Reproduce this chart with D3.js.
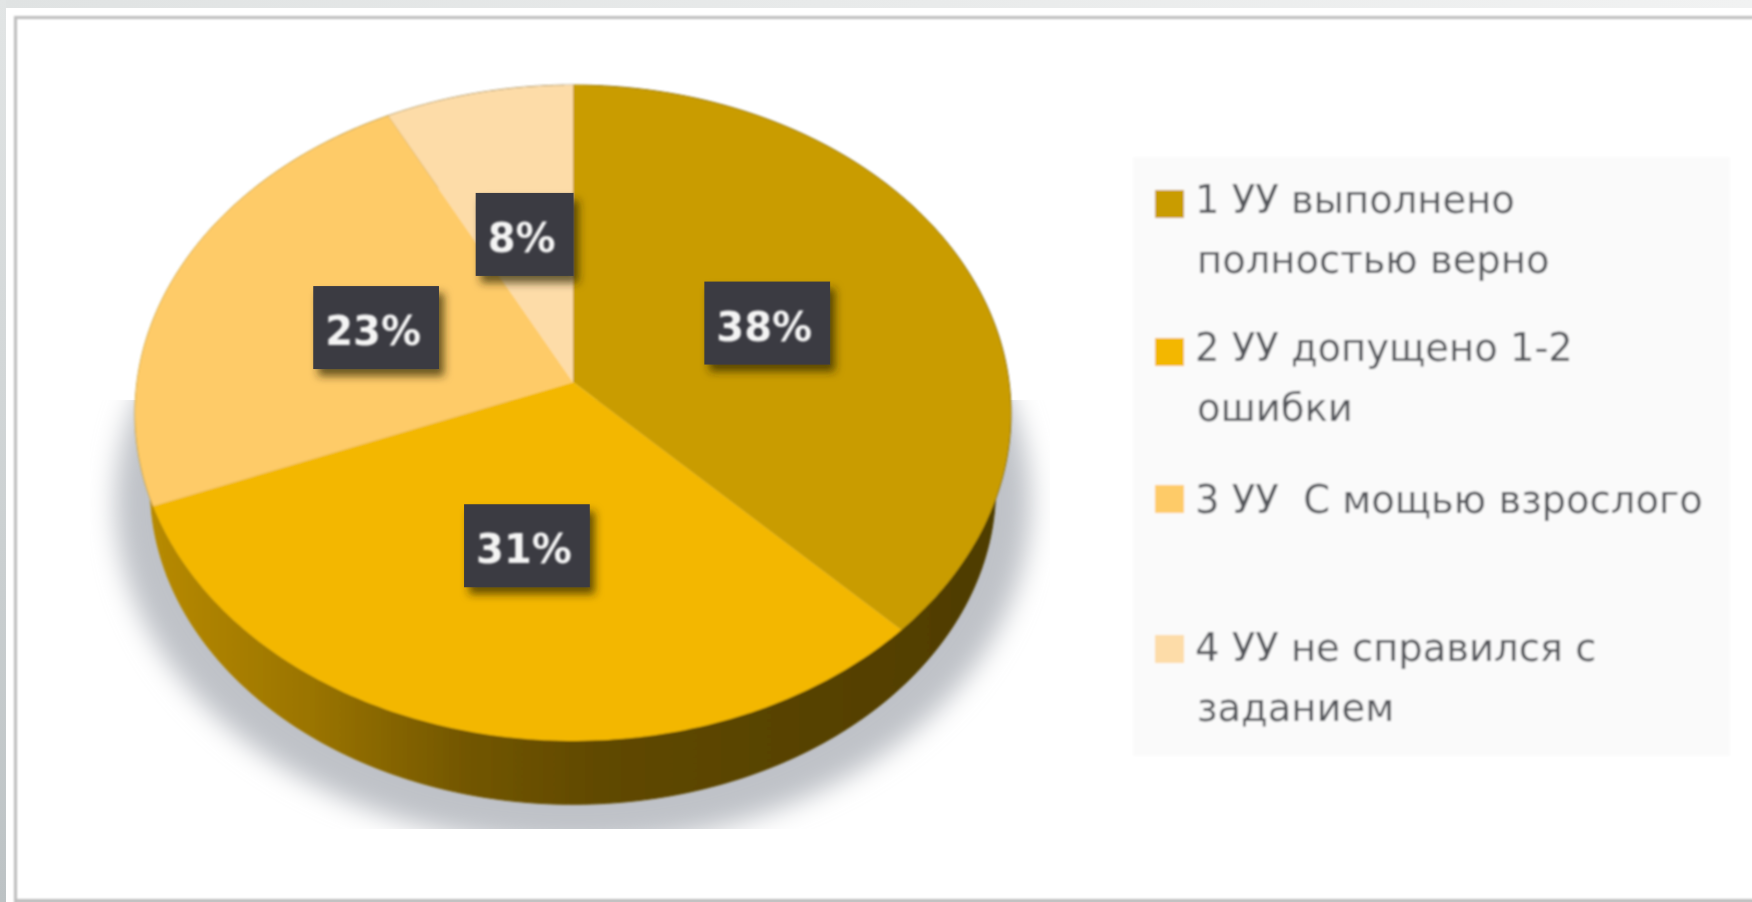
<!DOCTYPE html>
<html>
<head>
<meta charset="utf-8">
<script src="https://d3js.org/d3.v7.min.js"></script>
<style>
  html, body { margin: 0; padding: 0; background: #fff; overflow: hidden; }
</style>
</head>
<body>
<div id="my_dataviz"></div>
<script>
    // values (slice sizes estimated, the labels round them)
    const categories = ["1 УУ", "2 УУ", "3 УУ", "4 УУ"]
    const values = [37.6, 31.4, 23.4, 7.6]
    const colors = ["#c99c00", "#f3b700", "#fecb67", "#fddca8"]
    const legendLines = [
        ["1 УУ выполнено", "полностью верно"],
        ["2 УУ допущено 1-2", "ошибки"],
        ["3 УУ  С мощью взрослого"],
        ["4 УУ не справился с", "заданием"]
    ]
    const legendSwatchRows = [213, 361, 508, 658]
    const legendTextRows = [213, 361, 513, 661]

    const width = 1752, height = 902

    // the pie is seen in perspective, so the apex sits above the middle of the ellipse
    const apex = {x: 573, y: 382}, radiusX = 436, radiusY = 325, tilt = 0.0945
    const depth = 76, bottomScale = 0.965

    function project(angle, r) {
        const u = Math.sin(angle) * r, v = Math.cos(angle) * r
        const w = 1 + tilt * v
        return [apex.x + radiusX * u / w, apex.y - radiusY * v / w]
    }
    function projectBottom(angle, s, dy) {
        const p = project(angle, 1)
        return [apex.x + s * (p[0] - apex.x), apex.y + dy + s * (p[1] - apex.y)]
    }

    const line = d3.line()
    const arcAngles = (a, b) => d3.range(0, 121).map(i => a + (b - a) * i / 120)

    const slices = d3.pie().sort(null).value(d => d)(values)

    const svg = d3.select("#my_dataviz")
      .append("svg")
        .attr("width", width)
        .attr("height", height)
        .style("display", "block")

    const defs = svg.append("defs")

    const soft = defs.append("filter").attr("id", "soft")
    soft.append("feGaussianBlur").attr("stdDeviation", 0.8)

    const shadowBlur = defs.append("filter").attr("id", "shadowBlur")
        .attr("x", "-10%").attr("y", "-10%").attr("width", "120%").attr("height", "120%")
    shadowBlur.append("feGaussianBlur").attr("stdDeviation", 13)

    const boxShadow = defs.append("filter").attr("id", "boxShadow")
        .attr("x", "-20%").attr("y", "-20%").attr("width", "150%").attr("height", "150%")
    boxShadow.append("feDropShadow")
        .attr("dx", 5).attr("dy", 7).attr("stdDeviation", 4)
        .attr("flood-color", "#2a2000").attr("flood-opacity", 0.7)

    defs.append("clipPath").attr("id", "shadowClip")
      .append("rect").attr("x", 90).attr("y", 400).attr("width", 960).attr("height", 429)

    const strip = defs.append("linearGradient").attr("id", "leftStrip")
        .attr("x1", 0).attr("y1", 0).attr("x2", 0).attr("y2", 1)
    strip.append("stop").attr("offset", 0).attr("stop-color", "#e2e5e5")
    strip.append("stop").attr("offset", 1).attr("stop-color", "#bcc2c4")

    const topStrip = defs.append("linearGradient").attr("id", "topStrip")
    topStrip.append("stop").attr("offset", 0).attr("stop-color", "#e0e3e3")
    topStrip.append("stop").attr("offset", 1).attr("stop-color", "#f1f2f2")

    const side = defs.append("linearGradient").attr("id", "sideFill")
        .attr("gradientUnits", "userSpaceOnUse")
        .attr("x1", 140).attr("y1", 0).attr("x2", 1000).attr("y2", 0)
    side.append("stop").attr("offset", 0).attr("stop-color", "#b98b00")
    side.append("stop").attr("offset", 0.2).attr("stop-color", "#9a7400")
    side.append("stop").attr("offset", 0.38).attr("stop-color", "#725600")
    side.append("stop").attr("offset", 0.55).attr("stop-color", "#5f4800")
    side.append("stop").attr("offset", 0.85).attr("stop-color", "#554100")
    side.append("stop").attr("offset", 1).attr("stop-color", "#4e3c00")

    // slide frame
    svg.append("rect").attr("width", width).attr("height", height).attr("fill", "#fff")
    svg.append("rect").attr("width", width).attr("height", 8).attr("fill", "url(#topStrip)")
    svg.append("rect").attr("width", 6).attr("height", height).attr("fill", "url(#leftStrip)")
    const frame = svg.append("g").attr("filter", "url(#soft)")
    frame.append("rect").attr("x", 14).attr("y", 16).attr("width", width).attr("height", 3).attr("fill", "#bdbdbd")
    frame.append("rect").attr("x", 14).attr("y", 16).attr("width", 3).attr("height", height).attr("fill", "#bdbdbd")
    frame.append("rect").attr("x", 14).attr("y", 899).attr("width", width).attr("height", 4).attr("fill", "#bdbdbd")

    // ground shadow
    const outline = arcAngles(0, 2 * Math.PI)
    svg.append("g").attr("clip-path", "url(#shadowClip)")
      .append("path")
        .attr("d", line(outline.map(a => projectBottom(a, 1.045, 88))) + "Z")
        .attr("fill", "#bfc2c8")
        .attr("filter", "url(#shadowBlur)")

    const pie3d = svg.append("g").attr("filter", "url(#soft)")

    // side walls
    pie3d.selectAll(".wall")
      .data(slices)
      .join("path")
        .attr("class", "wall")
        .attr("fill", "url(#sideFill)")
        .attr("stroke", "url(#sideFill)")
        .attr("d", d => {
            const as = arcAngles(d.startAngle, d.endAngle)
            const upper = as.map(a => project(a, 1))
            const lower = as.slice().reverse().map(a => projectBottom(a, bottomScale, depth))
            return line(upper.concat(lower)) + "Z"
        })

    // top face
    pie3d.selectAll(".slice")
      .data(slices)
      .join("path")
        .attr("class", "slice")
        .attr("fill", (d, i) => colors[i])
        .attr("d", d => line([[apex.x, apex.y]].concat(arcAngles(d.startAngle, d.endAngle).map(a => project(a, 1)))) + "Z")

    // percent labels
    const labels = svg.selectAll(".label")
      .data(slices)
      .join("g")
        .attr("class", "label")
        .attr("transform", d => `translate(${project((d.startAngle + d.endAngle) / 2, 0.49)})`)

    const labelBox = labels.append("rect")
        .attr("fill", "#3a3b42")
        .attr("filter", "url(#boxShadow)")

    labels.append("text")
        .attr("text-anchor", "middle")
        .attr("x", -3)
        .attr("y", 18)
        .attr("font-family", "DejaVu Sans")
        .attr("font-weight", "bold")
        .attr("font-size", 40)
        .attr("fill", "#f4f4f4")
        .attr("filter", "url(#soft)")
        .text(d => Math.round(d.value) + "%")

    labelBox.each(function() {
        const w = this.parentNode.querySelector("text").getComputedTextLength() + 30
        d3.select(this).attr("x", -w / 2).attr("y", -41).attr("width", w).attr("height", 83)
    })

    // legend
    const legend = svg.append("g").attr("filter", "url(#soft)")
    legend.append("rect")
        .attr("x", 1133).attr("y", 157).attr("width", 597).attr("height", 599)
        .attr("fill", "#fafafa")

    const entry = legend.selectAll(".entry")
      .data(categories)
      .join("g")
        .attr("class", "entry")

    entry.append("rect")
        .attr("x", 1155)
        .attr("y", (d, i) => legendSwatchRows[i] - 23)
        .attr("width", 29)
        .attr("height", 28)
        .attr("fill", (d, i) => colors[i])

    entry.each(function(d, i) {
        d3.select(this).selectAll("text")
          .data(legendLines[i])
          .join("text")
            .attr("x", (t, j) => j == 0 ? 1195 : 1197)
            .attr("y", (t, j) => legendTextRows[i] + j * 60)
            .style("white-space", "pre")
            .attr("font-family", "DejaVu Sans")
            .attr("font-size", 38.5)
            .attr("fill", "#55575c")
            .text(t => t)
    })
</script>
</body>
</html>
